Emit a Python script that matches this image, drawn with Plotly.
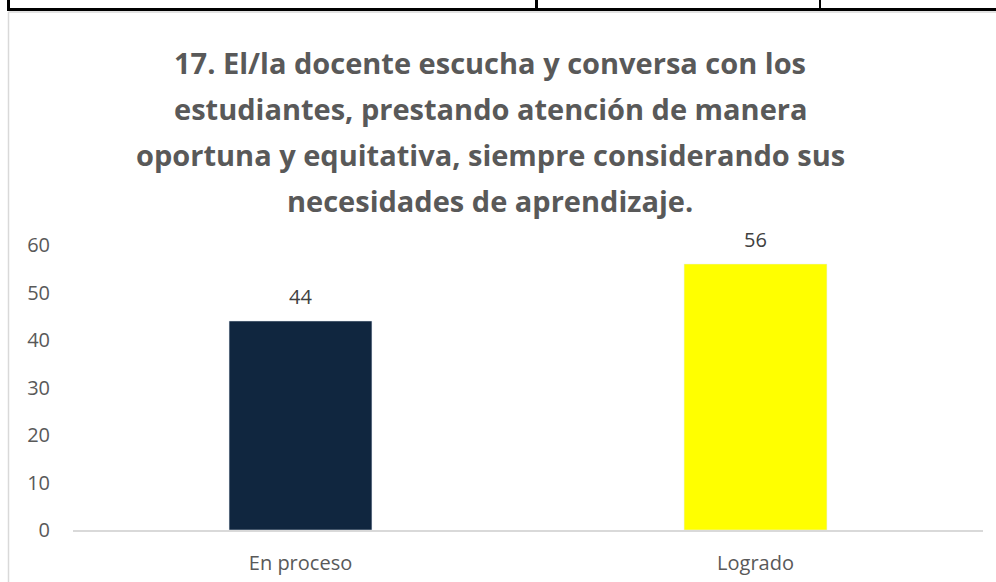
import plotly.graph_objects as go

categories = ["En proceso", "Logrado"]
values = [44, 56]
colors = ["#10263f", "#ffff00"]
title_lines = [
    "17. El/la docente escucha y conversa con los",
    "estudiantes, prestando atención de manera",
    "oportuna y equitativa, siempre considerando sus",
    "necesidades de aprendizaje.",
]
y_ticks = [0, 10, 20, 30, 40, 50, 60]

W, H = 996, 582
L, R, T, B = 73, 13, 245, 52
pw, ph = W - L - R, H - T - B

def px(x):  # page pixel -> paper x
    return (x - L) / pw

def py(y):  # page pixel -> paper y
    return (H - B - y) / ph

fig = go.Figure(go.Bar(
    x=categories, y=values, marker_color=colors, width=0.314,
    cliponaxis=False, hoverinfo="skip",
))

annotations = []
for i, line in enumerate(title_lines):
    annotations.append(dict(
        text=f"<b>{line}</b>", xref="paper", yref="paper",
        x=px(490), y=py(62 + i * 46.2), xanchor="center", yanchor="middle",
        showarrow=False, font=dict(family="Open Sans", size=29, color="#595959"),
    ))
for c, v in zip(categories, values):
    annotations.append(dict(
        text=str(v), x=c, y=v, xref="x", yref="y", xanchor="center", yanchor="middle",
        yshift=25, showarrow=False,
        font=dict(family="Open Sans", size=20, color="#404040"),
    ))

shapes = [
    # table lines at top
    dict(type="line", xref="paper", yref="paper", x0=px(7), x1=px(1000), y0=py(9.4), y1=py(9.4),
         line=dict(color="black", width=3)),
    dict(type="line", xref="paper", yref="paper", x0=px(8.5), x1=px(8.5), y0=py(-2), y1=py(10),
         line=dict(color="black", width=3)),
    dict(type="line", xref="paper", yref="paper", x0=px(536.5), x1=px(536.5), y0=py(-2), y1=py(10),
         line=dict(color="black", width=3)),
    dict(type="line", xref="paper", yref="paper", x0=px(820), x1=px(820), y0=py(-2), y1=py(10),
         line=dict(color="black", width=2)),
    # chart frame
    dict(type="line", xref="paper", yref="paper", x0=px(8.5), x1=px(1000), y0=py(12), y1=py(12),
         line=dict(color="#d9d9d9", width=1.5)),
    dict(type="line", xref="paper", yref="paper", x0=px(8.5), x1=px(8.5), y0=py(12), y1=py(590),
         line=dict(color="#d9d9d9", width=1.5)),
]

fig.update_layout(
    width=W, height=H, margin=dict(l=L, r=R, t=T, b=B, autoexpand=False),
    paper_bgcolor="white", plot_bgcolor="white",
    showlegend=False, bargap=0.686,
    annotations=annotations, shapes=shapes,
    xaxis=dict(showgrid=False, showline=True, linecolor="#d9d9d9", linewidth=1.5,
               automargin=False, ticks="",
               tickfont=dict(family="Open Sans", size=20, color="#595959"),
               ticklabelstandoff=14),
    yaxis=dict(range=[0, 60], tickvals=y_ticks, showgrid=False, zeroline=False,
               automargin=False, showline=False, ticks="", ticklabelstandoff=22,
               tickfont=dict(family="Open Sans", size=20, color="#595959")),
)

fig.write_html("out.html", config={"displayModeBar": False},
               post_script="document.body.style.margin='0';")
